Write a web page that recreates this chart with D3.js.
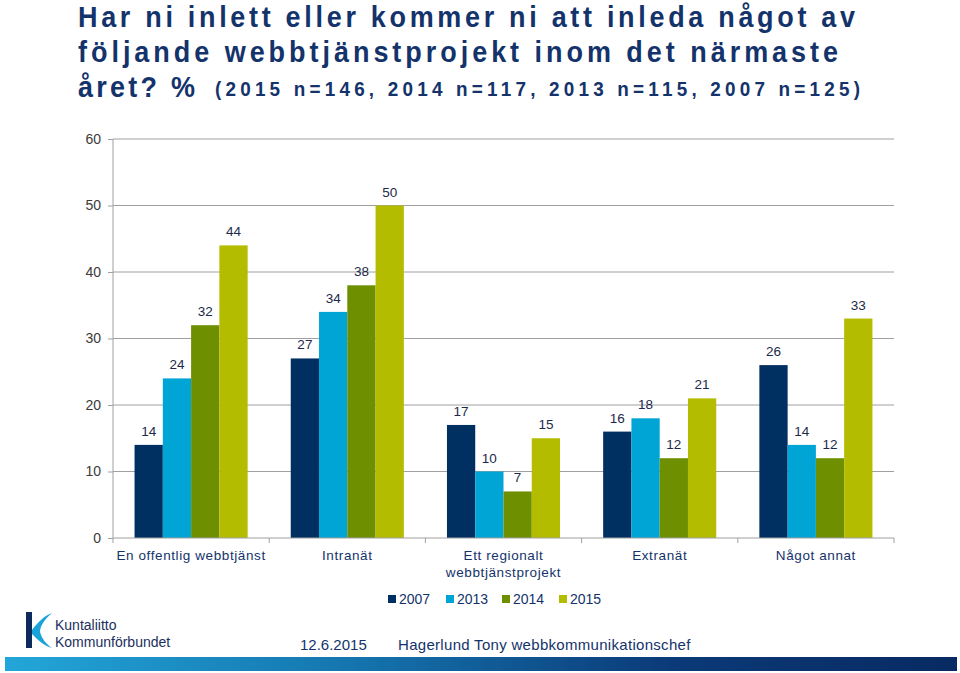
<!DOCTYPE html>
<html><head><meta charset="utf-8">
<script src="https://cdn.jsdelivr.net/npm/d3@7"></script>
<style>body{margin:0;background:#fff}svg{display:block}</style>
</head><body>
<svg id="c" width="960" height="673"></svg>
<script>
const categories = ["En offentlig webbtjänst", "Intranät", "Ett regionalt webbtjänstprojekt", "Extranät", "Något annat"];
const seriesNames = ["2007", "2013", "2014", "2015"];
const v2007 = [14, 27, 17, 16, 26];
const v2013 = [24, 34, 10, 18, 14];
const v2014 = [32, 38, 7, 12, 12];
const v2015 = [44, 50, 15, 21, 33];
const yTicks = [0, 10, 20, 30, 40, 50, 60];
const colors = ["#002f62", "#00a5d5", "#6e8f00", "#b4bc00"];

(function () {
const values = [v2007, v2013, v2014, v2015];
const svg = d3.select("#c");
const navy = "#14336b";

// Title (condensed glyphs, wide spacing)
const sx = 0.9;
function titleLine(x, yb, size, len, str) {
  svg.append("g").attr("transform", `translate(${x},${yb}) scale(${sx},1)`)
    .append("text").attr("x", 0).attr("y", 0).attr("font-size", size)
    .attr("font-family", "'Liberation Sans',Arial,sans-serif").attr("font-weight", "bold")
    .attr("fill", navy).attr("textLength", len / sx).attr("lengthAdjust", "spacing").text(str);
}
titleLine(78, 27, 30, 777, "Har ni inlett eller kommer ni att inleda något av");
titleLine(78, 62, 30, 760, "följande webbtjänstprojekt inom det närmaste");
titleLine(78, 97, 30, 117, "året? %");
titleLine(215, 96, 21, 645, "(2015 n=146, 2014 n=117, 2013 n=115, 2007 n=125)");

// Plot
const pL = 113, pR = 894, pT = 139, pB = 538;
const y = d3.scaleLinear().domain([0, 60]).range([pB, pT]);
const x0 = d3.scaleBand().domain(categories).range([pL, pR]).padding(0);
const bw = x0.bandwidth();
const x1 = d3.scaleBand().domain(seriesNames).range([bw * 0.138, bw * 0.862]).padding(0);

const font = "'Liberation Sans',Arial,sans-serif";

// gridlines
svg.append("g").selectAll("line").data(yTicks.filter(d => d > 0)).join("line")
  .attr("x1", pL).attr("x2", pR).attr("y1", d => y(d)).attr("y2", d => y(d))
  .attr("stroke", "#a0a0a0").attr("stroke-width", 1);

// bars
const groups = svg.append("g").selectAll("g").data(categories).join("g")
  .attr("transform", d => `translate(${x0(d)},0)`);
groups.each(function(cat, ci) {
  const g = d3.select(this);
  seriesNames.forEach((s, si) => {
    const val = values[si][ci];
    g.append("rect").attr("x", x1(s)).attr("width", x1.bandwidth())
      .attr("y", y(val)).attr("height", y(0) - y(val)).attr("fill", colors[si]);
    g.append("text").attr("x", x1(s) + x1.bandwidth() / 2).attr("y", y(val) - 9)
      .attr("text-anchor", "middle").attr("font-family", font).attr("font-size", 13.5)
      .attr("fill", "#1b2a4a").text(val);
  });
});

// Y axis
const yAxis = d3.axisLeft(y).tickValues(yTicks).tickSize(5).tickPadding(7);
const ya = svg.append("g").attr("transform", `translate(${pL},0)`).call(yAxis);
ya.select(".domain").attr("stroke", "#a0a0a0").attr("d", `M0,${pT}V${pB}`);
ya.selectAll(".tick line").attr("stroke", "#a0a0a0");
ya.selectAll(".tick text").attr("font-family", font).attr("font-size", 14).attr("fill", "#3a3a3a");

// X axis
const xa = svg.append("g").attr("transform", `translate(0,${pB})`);
xa.append("line").attr("x1", pL).attr("x2", pR).attr("stroke", "#a0a0a0");
const bounds = categories.map(c => x0(c)).concat([pR]);
xa.selectAll("line.tk").data(bounds).join("line").attr("class", "tk")
  .attr("x1", d => d).attr("x2", d => d).attr("y1", 0).attr("y2", 5).attr("stroke", "#a0a0a0");
const labelLines = { "Ett regionalt webbtjänstprojekt": ["Ett regionalt", "webbtjänstprojekt"] };
categories.forEach(c => {
  const lines = labelLines[c] || [c];
  const tx = xa.append("text").attr("x", x0(c) + bw / 2).attr("y", 22)
    .attr("text-anchor", "middle").attr("font-family", font).attr("font-size", 13.5)
    .attr("letter-spacing", 0.6).attr("fill", navy);
  lines.forEach((l, i) => tx.append("tspan").attr("x", x0(c) + bw / 2).attr("dy", i === 0 ? 0 : 17).text(l));
});

// Legend
const legX = [388, 446, 502, 559];
const leg = svg.append("g");
seriesNames.forEach((s, i) => {
  leg.append("rect").attr("x", legX[i]).attr("y", 595).attr("width", 8).attr("height", 8).attr("fill", colors[i]);
  leg.append("text").attr("x", legX[i] + 11).attr("y", 604).attr("font-family", font).attr("font-size", 14)
    .attr("fill", navy).text(s);
});

// Footer text
svg.append("text").attr("x", 300).attr("y", 650).attr("font-family", font).attr("font-size", 15).attr("fill", navy).text("12.6.2015");
svg.append("text").attr("x", 398).attr("y", 650).attr("font-family", font).attr("font-size", 15).attr("letter-spacing", 0.3).attr("fill", navy).text("Hagerlund Tony webbkommunikationschef");

// Logo
const logo = svg.append("g");
logo.append("rect").attr("x", 26).attr("y", 612).attr("width", 6).attr("height", 36).attr("fill", "#0d2a5c");
logo.append("path").attr("d", "M32,630 C38,622 44,616 52,613 C44,620 40,626 40,632 C42,639 46,644 52,648 C44,646 38,640 32,634 Z").attr("fill", "#1aa3d8");
logo.append("text").attr("x", 55).attr("y", 630).attr("font-family", font).attr("font-size", 14).attr("fill", "#1b2f5e").text("Kuntaliitto");
logo.append("text").attr("x", 55).attr("y", 647).attr("font-family", font).attr("font-size", 14).attr("fill", "#1b2f5e").text("Kommunförbundet");

// Footer gradient bar
const defs = svg.append("defs");
const grad = defs.append("linearGradient").attr("id", "fg").attr("x1", "0").attr("x2", "1").attr("y1", "0").attr("y2", "0");
grad.append("stop").attr("offset", "0").attr("stop-color", "#23a6d9");
grad.append("stop").attr("offset", "0.35").attr("stop-color", "#1577b0");
grad.append("stop").attr("offset", "0.7").attr("stop-color", "#0b3a78");
grad.append("stop").attr("offset", "1").attr("stop-color", "#082a62");
svg.append("rect").attr("x", 5).attr("y", 657).attr("width", 952).attr("height", 14).attr("fill", "url(#fg)");
})();
</script>
</body></html>
